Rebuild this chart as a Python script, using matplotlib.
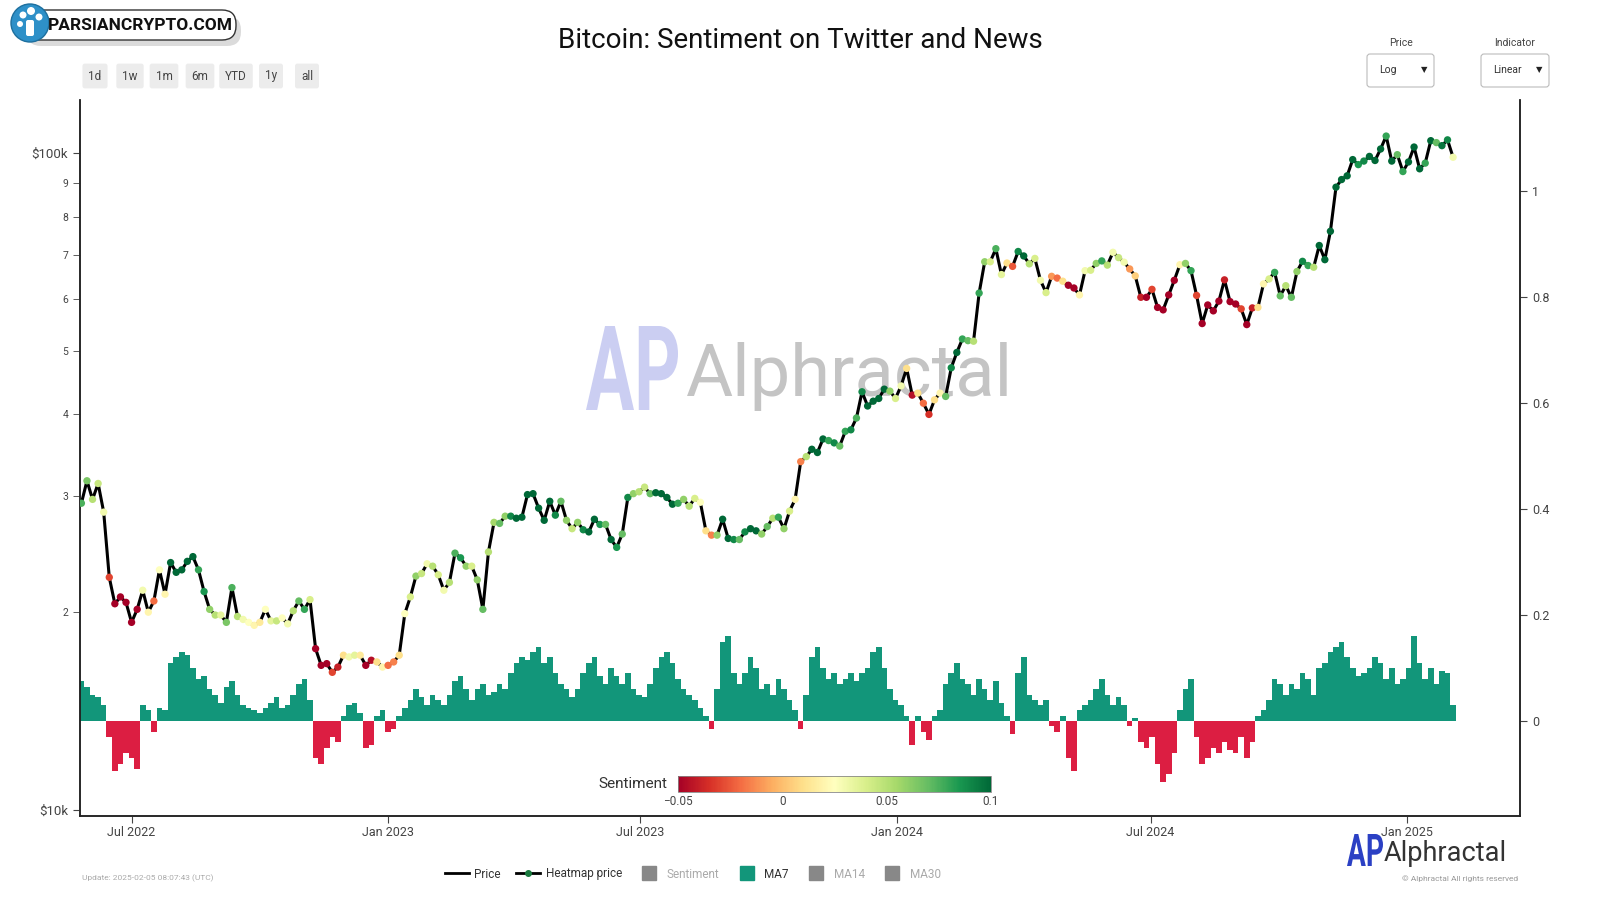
import matplotlib
matplotlib.use('Agg')
import matplotlib.pyplot as plt
import matplotlib.dates as mdates
from matplotlib.patches import FancyBboxPatch, Circle, PathPatch
from matplotlib.lines import Line2D
from matplotlib.colors import Normalize
from matplotlib.cm import ScalarMappable
from matplotlib.textpath import TextPath
from matplotlib.font_manager import FontProperties
from matplotlib.transforms import Affine2D
import numpy as np
import pandas as pd

plt.rcParams['font.family'] = ['Roboto', 'DejaVu Sans']

# precio BTC (miles de USD), una muestra cada 4 dias desde 2022-05-26
price_2022 = [29.3, 31.7, 29.7, 31.4, 28.4, 22.6, 20.6, 21.1, 20.7, 19.3, 20.2, 21.6, 20.0, 20.8,
              23.2, 21.3, 23.8, 23.0, 23.2, 23.9, 24.3, 23.2, 21.5, 20.2, 19.8, 19.8, 19.3, 21.8,
              19.7, 19.5, 19.3, 19.1, 19.3, 20.2, 19.4, 19.4, 19.6, 19.2, 20.1, 20.8, 20.2, 20.9,
              17.6, 16.6, 16.7, 16.2, 16.5, 17.2, 17.1, 17.2, 17.2, 16.6, 16.9, 16.8, 16.5]
price_2023 = [16.6, 16.8, 17.2, 19.9, 21.1, 22.7, 22.9, 23.7, 23.5, 22.8, 21.6, 22.2, 24.6, 24.2,
              23.5, 23.5, 22.4, 20.2, 24.7, 27.4, 27.3, 28.0, 28.0, 27.8, 27.9, 30.2, 30.3, 28.8,
              27.6, 29.5, 28.1, 29.5, 27.6, 26.8, 27.4, 26.7, 26.5, 27.7, 27.2, 27.2, 25.8, 25.1,
              26.3, 29.9, 30.3, 30.5, 31.0, 30.3, 30.4, 30.3, 29.9, 29.2, 29.3, 29.7, 29.0, 29.8,
              29.4, 26.6, 26.2, 26.2, 27.7, 25.9, 25.8, 25.8, 26.5, 26.8, 26.6, 26.3, 27.0, 27.8,
              27.9, 26.8, 28.5, 29.7, 33.9, 34.5, 35.4, 35.0, 36.7, 36.5, 36.2, 35.8, 37.7, 37.9,
              39.5, 43.3, 41.2, 41.9, 42.3, 43.7, 43.4, 42.3]
price_2024 = [44.2, 47.0, 42.8, 43.1, 41.6, 40.0, 42.1, 43.1, 42.6, 47.1, 49.7, 52.1, 51.8, 51.7,
              61.2, 68.3, 68.3, 71.5, 65.3, 68.0, 67.2, 70.8, 69.7, 67.8, 69.1, 64.0, 61.3, 64.9,
              64.5, 63.8, 62.9, 62.3, 60.8, 66.2, 66.3, 67.9, 68.5, 67.5, 70.6, 69.3, 68.2, 66.6,
              65.0, 60.3, 60.3, 62.0, 58.2, 57.7, 60.8, 64.0, 67.6, 67.9, 66.2, 60.7, 55.0, 58.7,
              57.5, 59.5, 64.1, 59.4, 58.9, 57.9, 54.8, 58.1, 58.2, 63.2, 64.3, 65.8, 60.6, 62.8,
              60.3, 66.0, 68.4, 67.4, 67.0, 72.3, 68.8, 76.0, 88.7, 91.1, 92.3, 97.7, 96.0, 97.2,
              98.8, 97.4, 101.4, 106.1, 97.2, 99.4, 93.7]
price_2025 = [96.9, 102.1, 94.6, 96.5, 104.4, 103.7, 102.6, 104.7, 98.5]

# sentimiento MA7 (mismas fechas)
sent_2022 = [0.075, 0.065, 0.05, 0.045, 0.03, -0.03, -0.095, -0.08, -0.06, -0.07, -0.09, 0.03, 0.02,
             -0.02, 0.025, 0.02, 0.11, 0.12, 0.13, 0.125, 0.1, 0.08, 0.085, 0.06, 0.05, 0.035, 0.065,
             0.075, 0.05, 0.03, 0.025, 0.02, 0.015, 0.025, 0.035, 0.045, 0.025, 0.03, 0.05, 0.07,
             0.08, 0.04, -0.07, -0.08, -0.05, -0.03, -0.04, 0.01, 0.03, 0.035, 0.015, -0.05, -0.045,
             0.01, 0.02]
sent_2023 = [-0.02, -0.015, 0.01, 0.025, 0.04, 0.06, 0.045, 0.03, 0.05, 0.04, 0.03, 0.05, 0.075,
             0.085, 0.06, 0.04, 0.06, 0.07, 0.05, 0.055, 0.07, 0.06, 0.09, 0.11, 0.12, 0.115, 0.13,
             0.14, 0.11, 0.12, 0.09, 0.07, 0.06, 0.045, 0.06, 0.09, 0.11, 0.12, 0.085, 0.07, 0.1,
             0.085, 0.07, 0.09, 0.06, 0.05, 0.045, 0.07, 0.1, 0.12, 0.13, 0.11, 0.08, 0.06, 0.05,
             0.04, 0.025, 0.01, -0.015, 0.06, 0.15, 0.16, 0.09, 0.07, 0.09, 0.12, 0.1, 0.06, 0.07,
             0.05, 0.08, 0.06, 0.04, 0.02, -0.015, 0.05, 0.12, 0.14, 0.1, 0.08, 0.09, 0.07, 0.08,
             0.09, 0.075, 0.09, 0.1, 0.13, 0.14, 0.1, 0.06, 0.04]
sent_2024 = [0.03, 0.01, -0.045, 0.01, -0.02, -0.035, 0.01, 0.02, 0.07, 0.09, 0.11, 0.08, 0.07,
             0.05, 0.08, 0.06, 0.04, 0.075, 0.035, 0.01, -0.025, 0.09, 0.12, 0.05, 0.04, 0.03, 0.04,
             -0.01, -0.02, 0.01, -0.07, -0.095, 0.02, 0.03, 0.04, 0.06, 0.08, 0.05, 0.03, 0.045,
             0.03, -0.01, 0.005, -0.04, -0.05, -0.03, -0.08, -0.115, -0.1, -0.06, 0.02, 0.06, 0.08,
             -0.03, -0.08, -0.07, -0.05, -0.06, -0.04, -0.055, -0.06, -0.03, -0.07, -0.04, 0.01,
             0.02, 0.04, 0.08, 0.07, 0.05, 0.07, 0.06, 0.09, 0.08, 0.05, 0.1, 0.11, 0.13, 0.14,
             0.15, 0.12, 0.1, 0.085, 0.09, 0.1, 0.12, 0.11, 0.08, 0.1, 0.07, 0.08]
sent_2025 = [0.1, 0.16, 0.11, 0.08, 0.1, 0.07, 0.095, 0.09, 0.03]

price = np.array(price_2022 + price_2023 + price_2024 + price_2025) * 1000
sent = np.array(sent_2022 + sent_2023 + sent_2024 + sent_2025)
fechas = pd.date_range('2022-05-26', periods=len(price), freq='4D')

x_ticks = ['2022-07-01', '2023-01-01', '2023-07-01', '2024-01-01', '2024-07-01', '2025-01-01']
cb_ticks = [-0.05, 0, 0.05, 0.1]
cb_labels = ['\u22120.05', '0', '0.05', '0.1']

COLOR_VERDE = '#12967a'
COLOR_ROJO = '#dc1e42'
COLOR_TEXTO = '#444444'


def fx(px):
    return px / 1600


def fy(py):
    return 1 - py / 900


fig = plt.figure(figsize=(16, 9), dpi=100)
fig.patch.set_facecolor('white')
T = fig.dpi_scale_trans  # pulgadas


def inch(px, py):
    return px / 100, (900 - py) / 100


def logo_ap(x0, y_top, ancho, alto, color, z=0):
    # dibuja "AP" estirado dentro de una caja en pixeles
    tp = TextPath((0, 0), 'AP', size=10, prop=FontProperties(family='Roboto', weight='bold'))
    bb = tp.get_extents()
    sx = (ancho / 100) / bb.width
    sy = (alto / 100) / bb.height
    xi, yi = inch(x0, y_top + alto)
    tr = Affine2D().translate(-bb.x0, -bb.y0).scale(sx, sy).translate(xi, yi) + T
    fig.patches.append(PathPatch(tp, transform=tr, fc=color, ec='none', zorder=z))


# marca de agua
logo_ap(586, 326, 92, 84, '#cbcef2')
fig.text(fx(686), fy(396), 'Alphractal', fontsize=52, color='#c4c4c4', ha='left',
         va='baseline', zorder=0)

ax = fig.add_axes([0.05, 0.0933, 0.9, 0.7956])
ax2 = ax.twinx()
ax.set_zorder(ax2.get_zorder() + 1)
ax.patch.set_visible(False)
ax2.patch.set_visible(False)

# barras de sentimiento
colores_barras = [COLOR_VERDE if v >= 0 else COLOR_ROJO for v in sent]
ax2.bar(fechas, sent, width=4, color=colores_barras, linewidth=0)
ax2.set_ylim(-0.179, 1.171)
ax2.set_yticks([0, 0.2, 0.4, 0.6, 0.8, 1])
ax2.set_yticklabels(['0', '0.2', '0.4', '0.6', '0.8', '1'])

# precio y heatmap
norm = Normalize(vmin=-0.05, vmax=0.1)
cmap = plt.get_cmap('RdYlGn')
ax.plot(fechas, price, color='black', lw=2.2, zorder=3)
ax.scatter(fechas, price, c=sent, cmap=cmap, norm=norm, s=28, linewidths=0, zorder=4)
ax.set_yscale('log')
ax.set_ylim(9790, 120400)
ax.set_xlim(pd.Timestamp('2022-05-25'), pd.Timestamp('2025-03-23'))
ax.set_yticks([1e4, 1e5])
ax.set_yticklabels(['$10k', '$100k'])
ax.set_yticks([k * 1e4 for k in range(2, 10)], minor=True)
ax.set_yticklabels([str(k) for k in range(2, 10)], minor=True)
ax.set_xticks(pd.to_datetime(x_ticks))
ax.xaxis.set_major_formatter(mdates.DateFormatter('%b %Y'))

for a in (ax, ax2):
    a.spines['top'].set_visible(False)
    for s in ('left', 'right', 'bottom'):
        a.spines[s].set_color('#222222')
        a.spines[s].set_linewidth(1.1)
ax.tick_params(axis='y', which='major', labelsize=9.5, colors=COLOR_TEXTO, length=5)
ax.tick_params(axis='y', which='minor', labelsize=7.5, colors=COLOR_TEXTO, length=5)
ax.tick_params(axis='x', labelsize=9, colors=COLOR_TEXTO, length=5, pad=2)
ax2.tick_params(axis='y', labelsize=9, colors=COLOR_TEXTO, length=5)

# barra de color
cax = fig.add_axes([fx(678), fy(792), fx(313), 16 / 900])
cb = fig.colorbar(ScalarMappable(norm=norm, cmap=cmap), cax=cax, orientation='horizontal')
cb.set_ticks(cb_ticks)
cb.set_ticklabels(cb_labels)
cb.ax.tick_params(length=0, labelsize=8.5, colors=COLOR_TEXTO, pad=2)
cb.outline.set_edgecolor('#888888')
cb.outline.set_linewidth(0.6)
fig.text(fx(667), fy(784), 'Sentiment', fontsize=11, color='#333333', ha='right', va='center')

# titulo
fig.text(0.5, fy(41), 'Bitcoin: Sentiment on Twitter and News', fontsize=20, color='#111111',
         ha='center', va='center')

# botones de rango
botones = ['1d', '1w', '1m', '6m', 'YTD', '1y', 'all']
bx = [95, 130, 164, 200, 236, 271, 307]
for b, x in zip(botones, bx):
    fig.text(fx(x), fy(76), b, fontsize=8.5, color=COLOR_TEXTO, ha='center', va='center',
             bbox=dict(boxstyle='round,pad=0.5,rounding_size=0.2', fc='#ececec', ec='none'))

# selectores
for etiqueta, valor, x0, x1 in [('Price', 'Log', 1367, 1434), ('Indicator', 'Linear', 1481, 1549)]:
    caja = FancyBboxPatch(inch(x0, 87), (x1 - x0) / 100, 0.33,
                          boxstyle='round,pad=0,rounding_size=0.03', transform=T,
                          fc='white', ec='#bbbbbb', lw=0.8)
    fig.patches.append(caja)
    fig.text(fx((x0 + x1) / 2), fy(43), etiqueta, fontsize=7.5, color=COLOR_TEXTO, ha='center',
             va='center')
    fig.text(fx(x0 + 12), fy(70), valor, fontsize=7.5, color='#333333', ha='left', va='center')
    fig.text(fx(x1 - 10), fy(70), '\u25bc', fontsize=6, color='#222222', ha='center', va='center',
             family=['DejaVu Sans'])

# logo arriba a la izquierda
sombra = FancyBboxPatch(inch(27, 46), 2.14, 0.30, boxstyle='round,pad=0,rounding_size=0.14',
                        transform=T, fc='#8a8a8a', ec='none', alpha=0.3)
fig.patches.append(sombra)
caja_logo = FancyBboxPatch(inch(22, 40), 2.14, 0.30, boxstyle='round,pad=0,rounding_size=0.14',
                           transform=T, fc='white', ec='#333333', lw=1.0)
fig.patches.append(caja_logo)
fig.patches.append(Circle(inch(30, 23), 0.19, transform=T, fc='#2e90c8', ec='#1d6f9e', lw=1))
for cx, cy, r in [(23, 15, 0.035), (31, 11, 0.04), (39, 17, 0.035), (20, 24, 0.03)]:
    fig.patches.append(Circle(inch(cx, cy), r, transform=T, fc='white', ec='none'))
fig.patches.append(FancyBboxPatch(inch(26, 36), 0.08, 0.16, boxstyle='round,pad=0,rounding_size=0.02',
                                  transform=T, fc='white', ec='none'))
fig.text(fx(48), fy(25), 'PARSIANCRYPTO.COM', fontsize=12.5, fontweight='bold', color='#111111',
         ha='left', va='center')

# leyenda
handles = [Line2D([], [], color='black', lw=2),
           Line2D([], [], color='black', lw=2, marker='o', markersize=4,
                  markerfacecolor='#1a7a3f', markeredgecolor='#1a7a3f'),
           Line2D([], [], ls='none', marker='s', markersize=10, color='#888888'),
           Line2D([], [], ls='none', marker='s', markersize=10, color=COLOR_VERDE),
           Line2D([], [], ls='none', marker='s', markersize=10, color='#888888'),
           Line2D([], [], ls='none', marker='s', markersize=10, color='#888888')]
labels = ['Price', 'Heatmap price', 'Sentiment', 'MA7', 'MA14', 'MA30']
leg = fig.legend(handles, labels, loc='center', bbox_to_anchor=(0.433, fy(874)), ncol=6,
                 frameon=False, fontsize=8.5, handlelength=2.0, handleheight=1.0,
                 columnspacing=1.3, handletextpad=0.5)
for t, c in zip(leg.get_texts(), ['#333', '#333', '#aaa', '#333', '#aaa', '#aaa']):
    t.set_color(c)

# logo abajo a la derecha
logo_ap(1347, 834, 36, 32, '#2b40c4')
fig.text(fx(1384), fy(861), 'Alphractal', fontsize=19.5, color='#333333', ha='left', va='baseline')
fig.text(fx(1518), fy(879), '\u00a9 Alphractal All rights reserved', fontsize=6, color='#999999',
         ha='right', va='center')
fig.text(fx(82), fy(878), 'Update: 2025-02-05 08:07:43 (UTC)', fontsize=6, color='#aaaaaa',
         ha='left', va='center')

fig.savefig('out.png', dpi=100, facecolor='white')
plt.close(fig)
